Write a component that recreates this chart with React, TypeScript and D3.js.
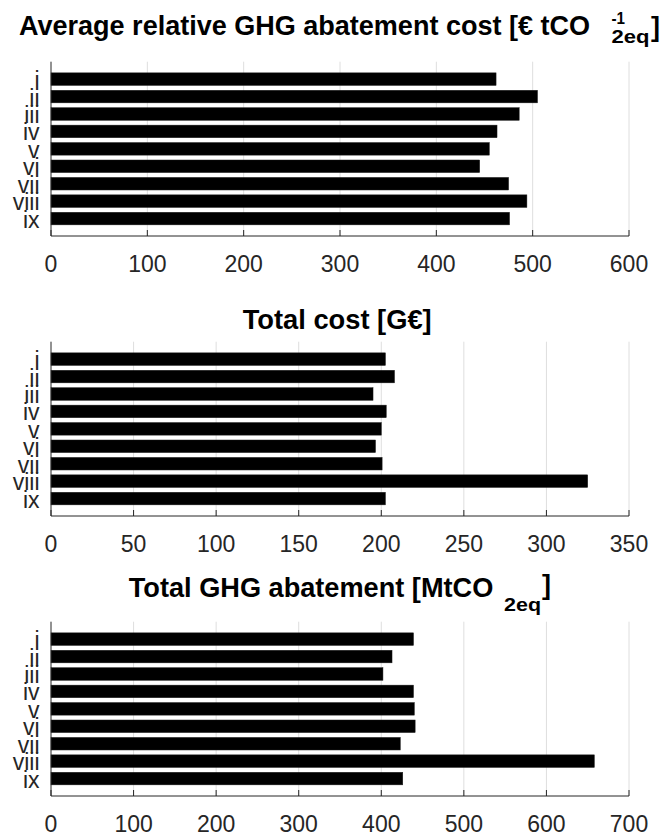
import React from "react";
import * as d3 from "d3";

const categories = ["i", "ii", "iii", "iv", "v", "vi", "vii", "viii", "ix"];
const avgAbatementCost = [462, 505, 486, 463, 455, 445, 475, 494, 476];
const totalCost = [202.5, 208, 195, 203, 200, 196.5, 200.5, 325, 202.5];
const totalAbatement = [439, 413, 402, 439, 440, 441, 423, 658, 426];

const ticksAvg = [0, 100, 200, 300, 400, 500, 600];
const ticksCost = [0, 50, 100, 150, 200, 250, 300, 350];
const ticksAbat = [0, 100, 200, 300, 400, 500, 600, 700];

const FONT = "'Liberation Sans', Arial, Helvetica, sans-serif";
const AXIS_COLOR = "#262626";
const GRID_COLOR = "#dedede";

const W = 662;
const H = 837;
const LEFT = 51;
const RIGHT = 629;
const PANEL_TOP = 61.7;
const PANEL_BOTTOM = 236;
const PANEL_OFFSET = 280;

type Seg = { text: string; x: number; y: number; size: number; len?: number };

function Panel({ index, values, ticks, title }: { index: number; values: number[]; ticks: number[]; title: Seg[] }) {
  const top = PANEL_TOP + index * PANEL_OFFSET;
  const bottom = PANEL_BOTTOM + index * PANEL_OFFSET;
  const x = d3.scaleLinear().domain([ticks[0], ticks[ticks.length - 1]]).range([LEFT, RIGHT]);
  const y = d3.scaleLinear().domain([0, categories.length + 1]).range([top, bottom]);
  const step = y(1) - y(0);
  const barH = step * 0.72;
  return (
    <g>
      {ticks.slice(1).map((t) => (
        <line key={"g" + t} x1={x(t)} x2={x(t)} y1={top} y2={bottom} stroke={GRID_COLOR} strokeWidth={1} />
      ))}
      {values.map((v, i) => (
        <rect
          key={"b" + i}
          x={x(0)}
          y={y(i + 1) - barH / 2}
          width={x(v) - x(0)}
          height={barH}
          fill="#000"
          stroke="#1a1a1a"
          strokeWidth={0.5}
        />
      ))}
      <line x1={LEFT} x2={LEFT} y1={top} y2={bottom} stroke={AXIS_COLOR} strokeWidth={1} />
      <line x1={LEFT} x2={RIGHT} y1={bottom} y2={bottom} stroke={AXIS_COLOR} strokeWidth={1} />
      {ticks.map((t) => (
        <g key={"t" + t}>
          <line x1={x(t)} x2={x(t)} y1={bottom} y2={bottom - 6} stroke={AXIS_COLOR} strokeWidth={1} />
          <text x={x(t)} y={bottom + 36} textAnchor="middle" fontFamily={FONT} fontSize={23} fill={AXIS_COLOR}>
            {t}
          </text>
        </g>
      ))}
      {categories.map((c, i) => (
        <text key={"c" + c} x={39.5} y={y(i + 1) + 9} textAnchor="end" fontFamily={FONT} fontSize={23} fill={AXIS_COLOR}>
          {c}
        </text>
      ))}
      {title.map((s, i) => (
        <text
          key={"s" + i}
          x={s.x}
          y={s.y}
          fontFamily={FONT}
          fontWeight="bold"
          fontSize={s.size}
          fill="#000"
          textLength={s.len}
          lengthAdjust={s.len ? "spacingAndGlyphs" : undefined}
        >
          {s.text}
        </text>
      ))}
    </g>
  );
}

const title1: Seg[] = [
  { text: "Average relative GHG abatement cost [€ tCO", x: 19, y: 35, size: 27, len: 571 },
  { text: "-1", x: 611.5, y: 24, size: 17, len: 13.5 },
  { text: "2eq", x: 611.5, y: 43, size: 19, len: 38 },
  { text: "]", x: 651, y: 36, size: 27 },
];
const title2: Seg[] = [{ text: "Total cost [G€]", x: 242.7, y: 329.3, size: 27, len: 189 }];
const title3: Seg[] = [
  { text: "Total GHG abatement [MtCO", x: 128.8, y: 596.7, size: 27, len: 364.5 },
  { text: "2eq", x: 504, y: 611, size: 19, len: 37 },
  { text: "]", x: 542, y: 594, size: 27 },
];

export default function App() {
  return (
    <div style={{ position: "absolute", left: 0, top: 0 }}>
      <svg width={W} height={H} style={{ display: "block", background: "#fff" }}>
        <Panel index={0} values={avgAbatementCost} ticks={ticksAvg} title={title1} />
        <Panel index={1} values={totalCost} ticks={ticksCost} title={title2} />
        <Panel index={2} values={totalAbatement} ticks={ticksAbat} title={title3} />
      </svg>
    </div>
  );
}
